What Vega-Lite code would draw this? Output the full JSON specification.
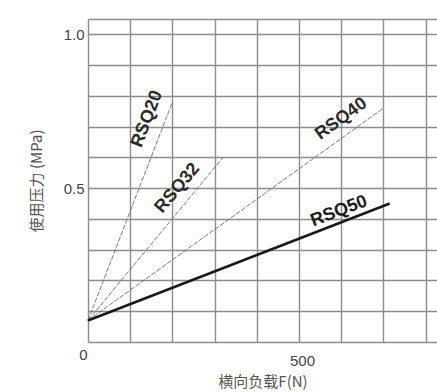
{
  "$schema": "https://vega.github.io/schema/vega-lite/v6.json",
  "autosize": "none",
  "width": 349,
  "height": 323,
  "padding": {"left": 88, "top": 19, "right": 0, "bottom": 50},
  "background": "white",
  "config": {"view": {"stroke": null}},
  "datasets": {
    "lines": [
      {"series": "RSQ20", "force": 0, "pressure": 0.07},
      {"series": "RSQ20", "force": 200, "pressure": 0.78},
      {"series": "RSQ32", "force": 0, "pressure": 0.07},
      {"series": "RSQ32", "force": 320, "pressure": 0.6},
      {"series": "RSQ40", "force": 0, "pressure": 0.07},
      {"series": "RSQ40", "force": 700, "pressure": 0.76},
      {"series": "RSQ50", "force": 0, "pressure": 0.07},
      {"series": "RSQ50", "force": 715, "pressure": 0.45}
    ],
    "labels": [
      {"series": "RSQ20", "force": 140, "pressure": 0.725},
      {"series": "RSQ32", "force": 212, "pressure": 0.5},
      {"series": "RSQ40", "force": 600, "pressure": 0.725},
      {"series": "RSQ50", "force": 595, "pressure": 0.425}
    ]
  },
  "encoding": {
    "x": {
      "field": "force", "type": "quantitative",
      "scale": {"domain": [0, 827], "nice": false, "zero": false},
      "axis": {
        "values": [0, 100, 200, 300, 400, 500, 600, 700, 800],
        "labelExpr": "datum.value == 0 || datum.value == 500 ? datum.label : ''",
        "title": "横向负载F(N)",
        "titleFont": "Noto Sans CJK SC",
        "titleFontWeight": "normal",
        "titleFontSize": 15,
        "titleColor": "#555555",
        "titlePadding": 6,
        "titleAnchor": "middle",
        "labelFont": "Liberation Sans",
        "labelFontSize": 15,
        "labelColor": "#444444",
        "labelPadding": {"condition": {"test": "datum.value == 0", "value": 5}, "value": 11},
        "labelOffset": {"condition": {"test": "datum.value == 0", "value": -5}, "value": 3},
        "labelFlush": false,
        "labelOverlap": false,
        "ticks": false,
        "domain": false,
        "grid": true,
        "gridColor": "#8c8c8c",
        "gridWidth": 1.4
      }
    },
    "y": {
      "field": "pressure", "type": "quantitative",
      "scale": {"domain": [0, 1.05], "nice": false, "zero": false},
      "axis": {
        "values": [0, 0.1, 0.2, 0.3, 0.4, 0.5, 0.6, 0.7, 0.8, 0.9, 1.0, 1.05],
        "format": ".1f",
        "labelExpr": "datum.value == 0.5 || datum.value == 1 ? datum.label : ''",
        "labelOverlap": false,
        "title": "使用压力 (MPa)",
        "titleFont": "Noto Sans CJK SC",
        "titleFontWeight": "normal",
        "titleFontSize": 15,
        "titleColor": "#555555",
        "titlePadding": 19,
        "labelFont": "Liberation Sans",
        "labelFontSize": 15,
        "labelColor": "#444444",
        "labelPadding": 4,
        "ticks": false,
        "domain": false,
        "grid": true,
        "gridColor": "#8c8c8c",
        "gridWidth": 1.4
      }
    }
  },
  "layer": [
    {
      "data": {"name": "lines"},
      "transform": [{"filter": "datum.series != 'RSQ50'"}],
      "mark": {"type": "line", "color": "#6a6a6a", "strokeWidth": 0.9, "strokeDash": [5, 1.5]},
      "encoding": {"detail": {"field": "series"}}
    },
    {
      "data": {"name": "lines"},
      "transform": [{"filter": "datum.series == 'RSQ50'"}],
      "mark": {"type": "line", "color": "#1a1a1a", "strokeWidth": 2.6},
      "encoding": {}
    },
    {
      "data": {"name": "labels"},
      "transform": [{"filter": "datum.series == 'RSQ20'"}],
      "mark": {"type": "text", "angle": 291, "font": "Liberation Sans", "fontWeight": "bold", "fontSize": 18, "color": "#2a2a2a", "align": "center", "baseline": "middle"},
      "encoding": {"text": {"field": "series"}}
    },
    {
      "data": {"name": "labels"},
      "transform": [{"filter": "datum.series == 'RSQ32'"}],
      "mark": {"type": "text", "angle": 310, "font": "Liberation Sans", "fontWeight": "bold", "fontSize": 18, "color": "#2a2a2a", "align": "center", "baseline": "middle"},
      "encoding": {"text": {"field": "series"}}
    },
    {
      "data": {"name": "labels"},
      "transform": [{"filter": "datum.series == 'RSQ40'"}],
      "mark": {"type": "text", "angle": 324, "font": "Liberation Sans", "fontWeight": "bold", "fontSize": 18, "color": "#2a2a2a", "align": "center", "baseline": "middle"},
      "encoding": {"text": {"field": "series"}}
    },
    {
      "data": {"name": "labels"},
      "transform": [{"filter": "datum.series == 'RSQ50'"}],
      "mark": {"type": "text", "angle": 339, "font": "Liberation Sans", "fontWeight": "bold", "fontSize": 18, "color": "#1a1a1a", "align": "center", "baseline": "middle"},
      "encoding": {"text": {"field": "series"}}
    }
  ]
}
